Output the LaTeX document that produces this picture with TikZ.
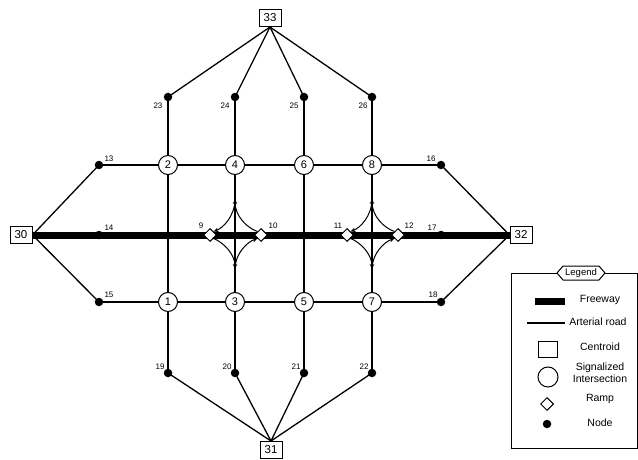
\documentclass[tikz,border=0pt]{standalone}
\usepackage{fontspec}
\setmainfont{Liberation Sans}
\usetikzlibrary{arrows.meta,shapes.geometric}
\pgfdeclarelayer{bg}
\pgfsetlayers{bg,main}
\begin{document}
\begin{tikzpicture}[x=1pt,y=-1pt,
 cent/.style={draw, fill=white, line width=1pt, minimum width=22pt, minimum height=17pt, inner sep=0pt, font=\fontsize{11.5}{11.5}\selectfont},
 sig/.style={circle, draw, fill=white, line width=1pt, minimum size=19pt, inner sep=0pt, font=\fontsize{11}{11}\selectfont},
 dotnode/.style={circle, fill=black, minimum size=8.5pt, inner sep=0pt},
 ramp/.style={diamond, draw, fill=white, line width=1pt, minimum size=13pt, inner sep=0pt},
 lab/.style={font=\fontsize{8}{8}\selectfont, inner sep=0pt},
 legtext/.style={font=\fontsize{10.5}{12}\selectfont, align=center, inner sep=0pt},
 art/.style={line width=2.5pt},
 conn/.style={line width=1.3pt},
 fwy/.style={line width=7pt},
 rampc/.style={line width=1pt, -{Stealth[length=5pt,width=4.5pt]}},
]
\useasboundingbox (0,0) rectangle (638,460);

% centroids
\node[cent] (n33) at (270,18) {33};
\node[cent] (n31) at (271,450) {31};
\node[cent] (n30) at (21,235) {30};
\node[cent] (n32) at (521,235) {32};

% signalized intersections
\node[sig] (c2) at (168,165) {2};
\node[sig] (c4) at (235,165) {4};
\node[sig] (c6) at (304,165) {6};
\node[sig] (c8) at (372,165) {8};
\node[sig] (c1) at (168,302) {1};
\node[sig] (c3) at (235,302) {3};
\node[sig] (c5) at (304,302) {5};
\node[sig] (c7) at (372,302) {7};

% ramps
\node[ramp] (r9) at (210,235) {};
\node[ramp] (r10) at (261,235) {};
\node[ramp] (r11) at (347,235) {};
\node[ramp] (r12) at (398,235) {};
\node[lab] (l9) at (201,226) {9};
\node[lab] (l10) at (273,226) {10};
\node[lab] (l11) at (338,226) {11};
\node[lab] (l12) at (409,226) {12};

% plain nodes
\node[dotnode] (d23) at (168,97) {};
\node[dotnode] (d24) at (235,97) {};
\node[dotnode] (d25) at (304,97) {};
\node[dotnode] (d26) at (372,97) {};
\node[dotnode] (d19) at (168,373) {};
\node[dotnode] (d20) at (235,373) {};
\node[dotnode] (d21) at (304,373) {};
\node[dotnode] (d22) at (372,373) {};
\node[dotnode] (d13) at (99,165) {};
\node[dotnode] (d14) at (99,235) {};
\node[dotnode] (d15) at (99,302) {};
\node[dotnode] (d16) at (441,165) {};
\node[dotnode] (d17) at (441,235) {};
\node[dotnode] (d18) at (441,302) {};

\node[lab] (l23) at (158,106) {23};
\node[lab] (l24) at (225,106) {24};
\node[lab] (l25) at (294,106) {25};
\node[lab] (l26) at (363,106) {26};
\node[lab] (l19) at (160,367) {19};
\node[lab] (l20) at (227,367) {20};
\node[lab] (l21) at (296,367) {21};
\node[lab] (l22) at (364,367) {22};
\node[lab] (l13) at (109,159) {13};
\node[lab] (l14) at (109,228) {14};
\node[lab] (l15) at (109,295) {15};
\node[lab] (l16) at (431,159) {16};
\node[lab] (l17) at (432,228) {17};
\node[lab] (l18) at (433,295) {18};

% ramp curve apexes
\coordinate (t4) at (235,199);
\coordinate (b4) at (235,269);
\coordinate (t8) at (372,199);
\coordinate (b8) at (372,269);

\begin{pgfonlayer}{bg}
 % centroid connectors
 \foreach \d in {d23,d24,d25,d26} \draw[conn] (n33.south) -- (\d.center);
 \foreach \d in {d19,d20,d21,d22} \draw[conn] (n31.north) -- (\d.center);
 \draw[conn] (n30.east) -- (d13.center);
 \draw[conn] (n30.east) -- (d15.center);
 \draw[conn] (n32.west) -- (d16.center);
 \draw[conn] (n32.west) -- (d18.center);
 % arterials
 \draw[art] (d13.center) -- (c2.center) -- (c4.center) -- (c6.center) -- (c8.center) -- (d16.center);
 \draw[art] (d15.center) -- (c1.center) -- (c3.center) -- (c5.center) -- (c7.center) -- (d18.center);
 \draw[art] (d23.center) -- (c2.center) -- (c1.center) -- (d19.center);
 \draw[art] (d24.center) -- (c4.center) -- (c3.center) -- (d20.center);
 \draw[art] (d25.center) -- (c6.center) -- (c5.center) -- (d21.center);
 \draw[art] (d26.center) -- (c8.center) -- (c7.center) -- (d22.center);
 % freeway
 \draw[fwy] (n30.east) -- (d14.center) -- (r9.center) -- (r10.center) -- (r11.center) -- (r12.center) -- (d17.center) -- (n32.west);
\end{pgfonlayer}

% ramp curves
\draw[rampc] (r10.north west) .. controls (247,228) and (235,216) .. (t4);
\draw[rampc] (t4) .. controls (235,216) and (223,228) .. (r9.north east);
\draw[rampc] (r9.south east) .. controls (223,242) and (235,254) .. (b4);
\draw[rampc] (b4) .. controls (235,254) and (247,242) .. (r10.south west);
\draw[rampc] (r12.north west) .. controls (384,228) and (372,216) .. (t8);
\draw[rampc] (t8) .. controls (372,216) and (360,228) .. (r11.north east);
\draw[rampc] (r11.south east) .. controls (360,242) and (372,254) .. (b8);
\draw[rampc] (b8) .. controls (372,254) and (384,242) .. (r12.south west);

% legend
\draw[line width=1pt] (511,273) rectangle (637,448);
\draw[line width=1pt, fill=white] (557,273) -- (563,266) -- (599,266) -- (605,273) -- (599,280) -- (563,280) -- cycle;
\node[font=\fontsize{9.5}{9.5}\selectfont, inner sep=0pt] (legt) at (581,273) {Legend};

\coordinate (fa) at (535,301);
\coordinate (fb) at (565,301);
\draw[fwy] (fa) -- (fb);
\node[legtext] (tf) at (600,300) {Freeway};
\coordinate (aa) at (527,323);
\coordinate (ab) at (565,323);
\draw[line width=1.6pt] (aa) -- (ab);
\node[legtext] (ta) at (598,322) {Arterial road};
\node[draw, line width=1pt, minimum width=19pt, minimum height=16pt, inner sep=0pt] (lc) at (548,349) {};
\node[legtext] (tc) at (600,347) {Centroid};
\node[circle, draw, line width=1pt, minimum size=20pt, inner sep=0pt] (ls) at (548,377) {};
\node[legtext] (ts) at (600,373) {Signalized\\Intersection};
\node[diamond, draw, line width=1pt, minimum size=13pt, inner sep=0pt] (lr) at (547,404) {};
\node[legtext] (tr) at (600,399) {Ramp};
\node[dotnode] (ln) at (547,424) {};
\node[legtext] (tn) at (600,423) {Node};
\end{tikzpicture}
\end{document}
